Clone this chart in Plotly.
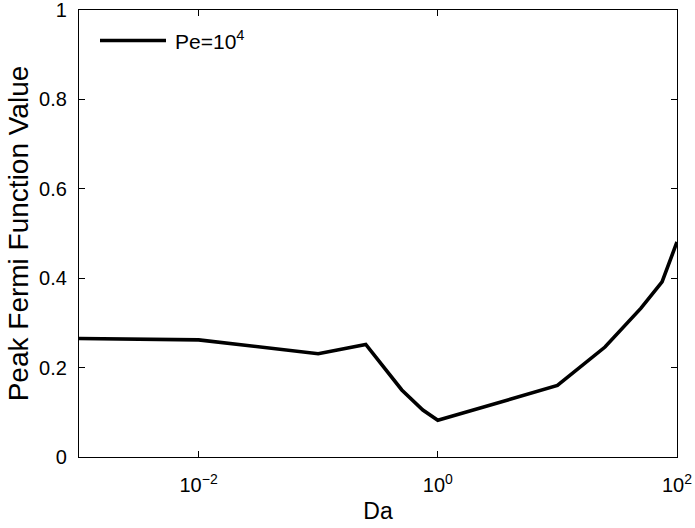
import plotly.graph_objects as go

da = [0.001, 0.01, 0.1, 0.25, 0.5, 0.75, 1, 10, 25, 50, 75, 100]
peak = [0.265, 0.262, 0.231, 0.252, 0.150, 0.105, 0.082, 0.160, 0.246, 0.333, 0.392, 0.481]
xtick_vals = [0.01, 1, 100]
xtick_text = ["10<sup>−2</sup>", "10<sup>0</sup>", "10<sup>2</sup>"]
ytick_vals = [0, 0.2, 0.4, 0.6, 0.8, 1]
ytick_text = ["0", "0.2", "0.4", "0.6", "0.8", "1"]
legend_label = "Pe=10<sup>4</sup>"

FONT = "Liberation Sans, Arial, sans-serif"

fig = go.Figure()
fig.add_trace(go.Scatter(x=da, y=peak, mode="lines",
                         line=dict(color="black", width=3.6),
                         name=legend_label, showlegend=False))

axis_common = dict(showline=True, linecolor="black", linewidth=1.2, mirror="ticks",
                   ticks="inside", ticklen=6, tickcolor="black", tickwidth=1,
                   showgrid=False, zeroline=False, automargin=False,
                   ticklabeloverflow="allow",
                   tickfont=dict(family=FONT, size=20, color="black"))

fig.update_xaxes(type="log", range=[-3, 2], tickvals=xtick_vals, ticktext=xtick_text,
                 ticklabelstandoff=10,
                 title=dict(text="Da", font=dict(family=FONT, size=23, color="black"), standoff=7),
                 **axis_common)
fig.update_yaxes(range=[0, 1], tickvals=ytick_vals, ticktext=ytick_text,
                 ticklabelstandoff=7,
                 title=dict(text="Peak Fermi Function Value", font=dict(family=FONT, size=28, color="black"), standoff=2),
                 **axis_common)

# legend drawn as a line sample plus label
PX0, PY0, PW, PH = 79, 9.5, 598, 447.2
fig.add_shape(type="line", xref="paper", yref="paper",
              x0=(100 - PX0) / PW, x1=(166 - PX0) / PW,
              y0=1 - (40 - PY0) / PH, y1=1 - (40 - PY0) / PH,
              line=dict(color="black", width=3.6))
fig.add_annotation(xref="paper", yref="paper", x=(173 - PX0) / PW, y=1 - (40 - PY0) / PH,
                   text=legend_label, showarrow=False, xanchor="left", yanchor="middle",
                   font=dict(family=FONT, size=21, color="black"))

fig.update_layout(width=695, height=528,
                  margin=dict(l=79, r=18, t=9.5, b=71.3),
                  paper_bgcolor="white", plot_bgcolor="white",
                  font=dict(family=FONT, color="black"))

fig.write_html("out.html", config={"displayModeBar": False},
               post_script="document.body.style.margin='0';")
